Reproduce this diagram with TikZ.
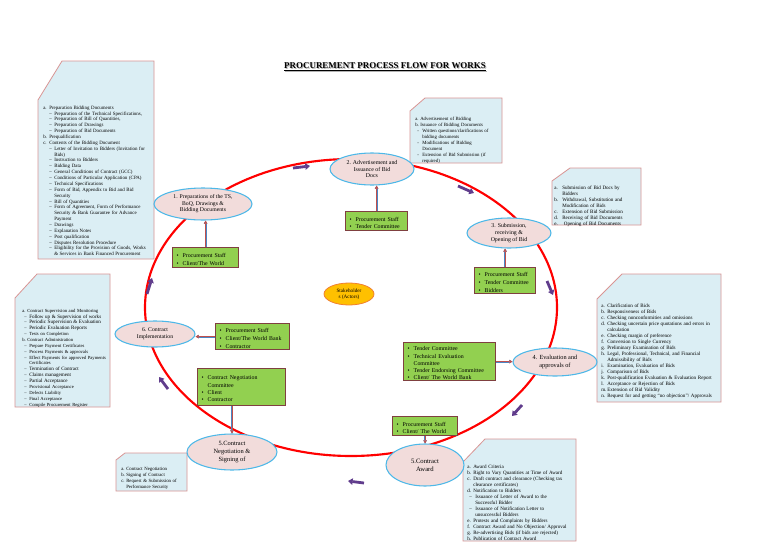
\documentclass[tikz,border=0pt]{standalone}
\usepackage{fontspec}
\setmainfont{Liberation Serif}
\usetikzlibrary{shapes.geometric,arrows.meta}
\definecolor{stagefill}{HTML}{F2DCDB}
\definecolor{stageborder}{HTML}{4DB8E8}
\definecolor{actorgreen}{HTML}{92D050}
\definecolor{actorborder}{HTML}{7F4040}
\definecolor{notefill}{HTML}{DBEEF4}
\definecolor{noteborder}{HTML}{D99594}
\definecolor{cyclered}{HTML}{FF0000}
\definecolor{flowpurple}{HTML}{603C8C}
\definecolor{linkblue}{HTML}{4A86C5}
\definecolor{linkred}{HTML}{C0504D}
\definecolor{actorfill}{HTML}{FFC000}
\definecolor{actorline}{HTML}{F08030}
\hyphenpenalty=10000
\exhyphenpenalty=10000
\newlength\lblw \newlength\dashx \newlength\dashw
\newcommand\litem[2]{\par\noindent\hangindent=\lblw\hangafter=1\makebox[\lblw][l]{#1}#2}
\newcommand\lsub[2]{\par\noindent\hangindent=\dimexpr\dashx+\dashw\relax\hangafter=1\hspace*{\dashx}\makebox[\dashw][l]{#1}#2}
\newcommand\bitem[1]{\par\noindent\hangindent=4.5pt\hangafter=1\makebox[4.5pt][l]{•}#1}
\tikzset{
  cycleline/.style={draw=cyclered, line width=1.6pt},
  stage/.style={ellipse, draw=stageborder, fill=stagefill, line width=0.8pt, inner sep=0pt, align=center, font=\fontsize{4.4}{5}\selectfont},
  actorbox/.style={draw=actorborder, fill=actorgreen, line width=0.9pt, anchor=north west, inner xsep=3pt, inner ysep=0.8pt, font=\fontsize{4.4}{5.8}\selectfont\raggedright},
  link/.style={preaction={draw=linkblue, line width=1.4pt}, draw=linkred, line width=0.35pt, -{Triangle[length=2.4pt,width=2.6pt]}},
  flow/.style={draw=flowpurple, line width=2.1pt, -{Triangle[length=3.5pt,width=4.8pt]}},
  note/.style={draw=noteborder, fill=notefill, line width=0.6pt},
  notetext/.style={anchor=north west, inner sep=0pt, font=\fontsize{3.8}{4.5}\selectfont\raggedright},
}
\begin{document}
\begin{tikzpicture}[x=0.75pt,y=-0.75pt]
\useasboundingbox (0,0) rectangle (768,543);
\fill[white] (0,0) rectangle (768,543);

% title
\node[text=black!30, font=\fontsize{6.7}{8}\selectfont\bfseries] (titleshadow) at (386,68) {\underline{PROCUREMENT PROCESS FLOW FOR WORKS}};
\node[font=\fontsize{6.7}{8}\selectfont\bfseries] (title) at (385,67) {\underline{PROCUREMENT PROCESS FLOW FOR WORKS}};

% main cycle
\draw[cycleline] (351,307.5) ellipse [x radius=206, y radius=148.5];

% flow arrows
\draw[flow] (293,168) -- (310,166);
\draw[flow] (458,186) -- (474,193);
\draw[flow] (547,281) -- (553,295);
\draw[flow] (522,405) -- (512,416);
\draw[flow] (364,483) -- (348,481);
\draw[flow] (168,389) -- (159,377);
\draw[flow] (147,294) -- (152,278);

% notes
\draw[note] (62,61) -- (154,61) -- (154,259) -- (38,259) -- (38,100) -- cycle;
\node[notetext, text width=81pt, font=\fontsize{3.7}{4.4}\selectfont\raggedright] (n1) at (43,103) {\setlength\lblw{4.5pt}\setlength\dashx{4.5pt}\setlength\dashw{3.75pt}%
\litem{a.}{Preparation Bidding Documents}
\lsub{–}{Preparation of the Technical Specifications,}
\lsub{–}{Preparation of Bill of Quantities,}
\lsub{–}{Preparation of Drawings}
\lsub{–}{Preparation of Bid Documents}
\litem{b.}{Prequalification}
\litem{c.}{Contents of the Bidding Document}
\lsub{–}{Letter of Invitation to Bidders (Invitation for\newline Bids)}
\lsub{–}{Instruction to Bidders}
\lsub{–}{Bidding Data}
\lsub{–}{General Conditions of Contract (GCC)}
\lsub{–}{Conditions of Particular Application (CPA)}
\lsub{–}{Technical Specifications}
\lsub{–}{Form of Bid, Appendix to Bid and Bid\newline Security}
\lsub{–}{Bill of Quantities}
\lsub{–}{Form of Agreement, Form of Performance\newline Security \& Bank Guarantee for Advance\newline Payment}
\lsub{–}{Drawings}
\lsub{–}{Explanation Notes}
\lsub{–}{Post qualification}
\lsub{–}{Disputes Resolution Procedure}
\lsub{–}{Eligibility for the Provision of Goods, Works\newline \& Services in Bank Financed Procurement}\par};

\draw[note] (425,98) -- (502,98) -- (502,163) -- (410,163) -- (410,111) -- cycle;
\node[notetext, text width=64pt, font=\fontsize{3.6}{4.5}\selectfont\raggedright] (n2) at (415,114) {\setlength\lblw{3.75pt}\setlength\dashx{1.5pt}\setlength\dashw{3.75pt}%
\litem{a.}{Advertisement of Bidding}
\litem{b.}{Issuance of Bidding Documents}
\lsub{-}{Written questions/clarifications of\newline bidding documents}
\lsub{-}{Modifications of Bidding\newline Document}
\lsub{-}{Extension of Bid Submission (if\newline required)}\par};

\draw[note] (570,168) -- (641,168) -- (641,225) -- (552,225) -- (552,181) -- cycle;
\node[notetext, text width=63pt] (n3) at (554,183) {\setlength\lblw{6pt}%
\litem{a.}{Submission of Bid Docs by\newline Bidders}
\litem{b.}{Withdrawal, Substitution and\newline Modification of Bids}
\litem{c.}{Extension of Bid Submission}
\litem{d.}{Receiving of Bid Documents}
\litem{e.}{\ Opening of Bid Documents}\par};

\draw[note] (622,274) -- (721,274) -- (721,402) -- (597,402) -- (597,299) -- cycle;
\node[notetext, text width=88pt] (n4) at (601,301) {\setlength\lblw{4.5pt}%
\litem{a.}{Clarification of Bids}
\litem{b.}{Responsiveness of Bids}
\litem{c.}{Checking nonconformities and omissions}
\litem{d.}{Checking uncertain price quotations and errors in\newline calculation}
\litem{e.}{Checking margin of preference}
\litem{f.}{Conversion to Single Currency}
\litem{g.}{Preliminary Examination of Bids}
\litem{h.}{Legal, Professional, Technical, and Financial\newline Admissibility of Bids}
\litem{i.}{Examination, Evaluation of Bids}
\litem{j.}{Comparison of Bids}
\litem{k.}{Post-qualification Evaluation \& Evaluation Report}
\litem{l.}{Acceptance or Rejection of Bids}
\litem{m.}{Extension of Bid Validity}
\litem{n.}{Request for and getting ``no objection''/ Approvals}\par};

\draw[note] (485,439) -- (576,439) -- (576,541) -- (463,541) -- (463,462) -- cycle;
\node[notetext, text width=80pt] (n5a) at (467,462) {\setlength\lblw{4.5pt}\setlength\dashx{1.5pt}\setlength\dashw{4.5pt}%
\litem{a.}{Award Criteria}
\litem{b.}{Right to Vary Quantities at Time of Award}
\litem{c.}{Draft contract and clearance (Checking tax\newline clearance certificates)}
\litem{d.}{Notification to Bidders}
\lsub{–}{Issuance of Letter of Award to the\newline Successful Bidder}
\lsub{–}{Issuance of Notification Letter to\newline unsuccessful Bidders}
\litem{e.}{Protests and Complaints by Bidders}
\litem{f.}{Contract Award and No Objection/ Approval}
\litem{g.}{Re-advertising Bids (if bids are rejected)}
\litem{h.}{Publication of Contract Award}\par};

\draw[note] (125,453) -- (187,453) -- (187,491) -- (116,491) -- (116,460) -- cycle;
\node[notetext, text width=49pt, font=\fontsize{3.6}{4.6}\selectfont\raggedright] (n5n) at (121,464) {\setlength\lblw{3.75pt}%
\litem{a.}{Contract Negotiation}
\litem{b.}{Signing of Contract}
\litem{c.}{Request \& Submission of\newline Performance Security}\par};

\draw[note] (37,274) -- (110,274) -- (110,407) -- (15,407) -- (15,298) -- cycle;
\node[notetext, text width=64pt, font=\fontsize{3.5}{4.4}\selectfont\raggedright] (n6) at (22,306) {\setlength\lblw{3.75pt}\setlength\dashx{1.5pt}\setlength\dashw{3.75pt}%
\litem{a.}{Contract Supervision and Monitoring}
\lsub{–}{{\fontsize{3.8}{4.4}\selectfont Follow up \& Supervision of works}}
\lsub{–}{{\fontsize{3.8}{4.4}\selectfont Periodic Supervision \& Evaluation}}
\lsub{–}{{\fontsize{3.8}{4.4}\selectfont Periodic Evaluation Reports}}
\lsub{–}{Tests on Completion}
\litem{b.}{Contract Administration}
\lsub{–}{Prepare Payment Certificates}
\lsub{–}{Process Payments \& approvals}
\lsub{–}{Effect Payments for approved Payments\newline Certificates}
\lsub{–}{{\fontsize{3.8}{4.4}\selectfont Termination of Contract}}
\lsub{–}{{\fontsize{3.8}{4.4}\selectfont Claims management}}
\lsub{–}{{\fontsize{3.8}{4.4}\selectfont Partial Acceptance}}
\lsub{–}{Provisional Acceptance}
\lsub{–}{Defects Liability}
\lsub{–}{Final Acceptance}
\lsub{–}{Compile Procurement Register}\par};

% stages
\node[stage, minimum width=73.5pt, minimum height=24pt, font=\fontsize{4.3}{4.9}\selectfont] (e1) at (203,204) {1. Preparations of the TS,\\BoQ, Drawings \&\\Bidding Documents};
\node[stage, minimum width=63pt, minimum height=24pt] (e2) at (372,169) {2. Advertisement and\\Issuance of Bid\\Docs};
\node[stage, minimum width=63pt, minimum height=22.5pt] (e3) at (509,233) {3. Submission,\\receiving \&\\Opening of Bid};
\node[stage, minimum width=63pt, minimum height=21pt, font=\fontsize{4.7}{5.5}\selectfont] (e4) at (555,362) {4. Evaluation and\\approvals of};
\node[stage, minimum width=58.5pt, minimum height=31.5pt, font=\fontsize{5}{6}\selectfont] (e5a) at (425,465) {5.Contract\\Award};
\node[stage, minimum width=67.5pt, minimum height=27pt, font=\fontsize{4.8}{6}\selectfont] (e5n) at (232,452) {5.Contract\\Negotiation \&\\Signing of};
\node[stage, minimum width=60pt, minimum height=19.5pt, font=\fontsize{4.3}{5}\selectfont] (e6) at (155,334) {6. Contract\\Implementation};
\node[ellipse, draw=actorline, fill=actorfill, line width=0.6pt, inner sep=0pt, align=center, minimum width=37.5pt, minimum height=16.5pt, font=\fontsize{3.9}{4.6}\selectfont] (stake) at (349,294) {Stakeholder\\s (Actors)};

% actors
\node[actorbox, minimum width=49.5pt, text width=43.5pt, minimum height=15pt] (g1) at (172,247) {\bitem{Procurement Staff}\bitem{Client/The World}\par};
\node[actorbox, minimum width=46.5pt, text width=40.5pt, minimum height=14.25pt] (g2) at (345,211) {\bitem{Procurement Staff}\bitem{Tender Committee}\par};
\node[actorbox, minimum width=45.75pt, text width=39.75pt, minimum height=19.5pt] (g3) at (474,267) {\bitem{Procurement Staff}\bitem{Tender Committee}\bitem{Bidders}\par};
\node[actorbox, minimum width=55.5pt, text width=49.5pt, minimum height=19.5pt] (g6) at (215,323) {\bitem{Procurement Staff}\bitem{Client/The World Bank}\bitem{Contractor}\par};
\node[actorbox, minimum width=69pt, text width=63pt, minimum height=28.5pt, font=\fontsize{4.4}{5.3}\selectfont\raggedright] (g4) at (403,342) {\bitem{Tender Committee}\bitem{Technical Evaluation\newline Committee}\bitem{Tender Endorsing Committee}\bitem{Client/ The World Bank}\par};
\node[actorbox, minimum width=66pt, text width=60pt, minimum height=27.75pt, font=\fontsize{4.4}{5.5}\selectfont\raggedright] (g5n) at (197,368) {\bitem{Contract Negotiation\newline Committee}\bitem{Client}\bitem{Contractor}\par};
\node[actorbox, minimum width=48.75pt, text width=42.75pt, minimum height=14.25pt] (g5a) at (392,416) {\bitem{Procurement Staff}\bitem{Client/ The World}\par};

% links
\draw[link] (g1.north) -- (g1.north |- e1.south);
\draw[link] (g2.north) -- (g2.north |- e2.south);
\draw[link] (g3.north) -- (g3.north |- e3.south);
\draw[link] (g6.west) -- (e6.east |- g6.west);
\draw[link] (g4.east) -- (e4.west |- g4.east);
\draw[link] (g5n.south -| e5n.north) -- (e5n.north);
\draw[link] (g5a.south) -- (g5a.south |- e5a.north);
\end{tikzpicture}
\end{document}
